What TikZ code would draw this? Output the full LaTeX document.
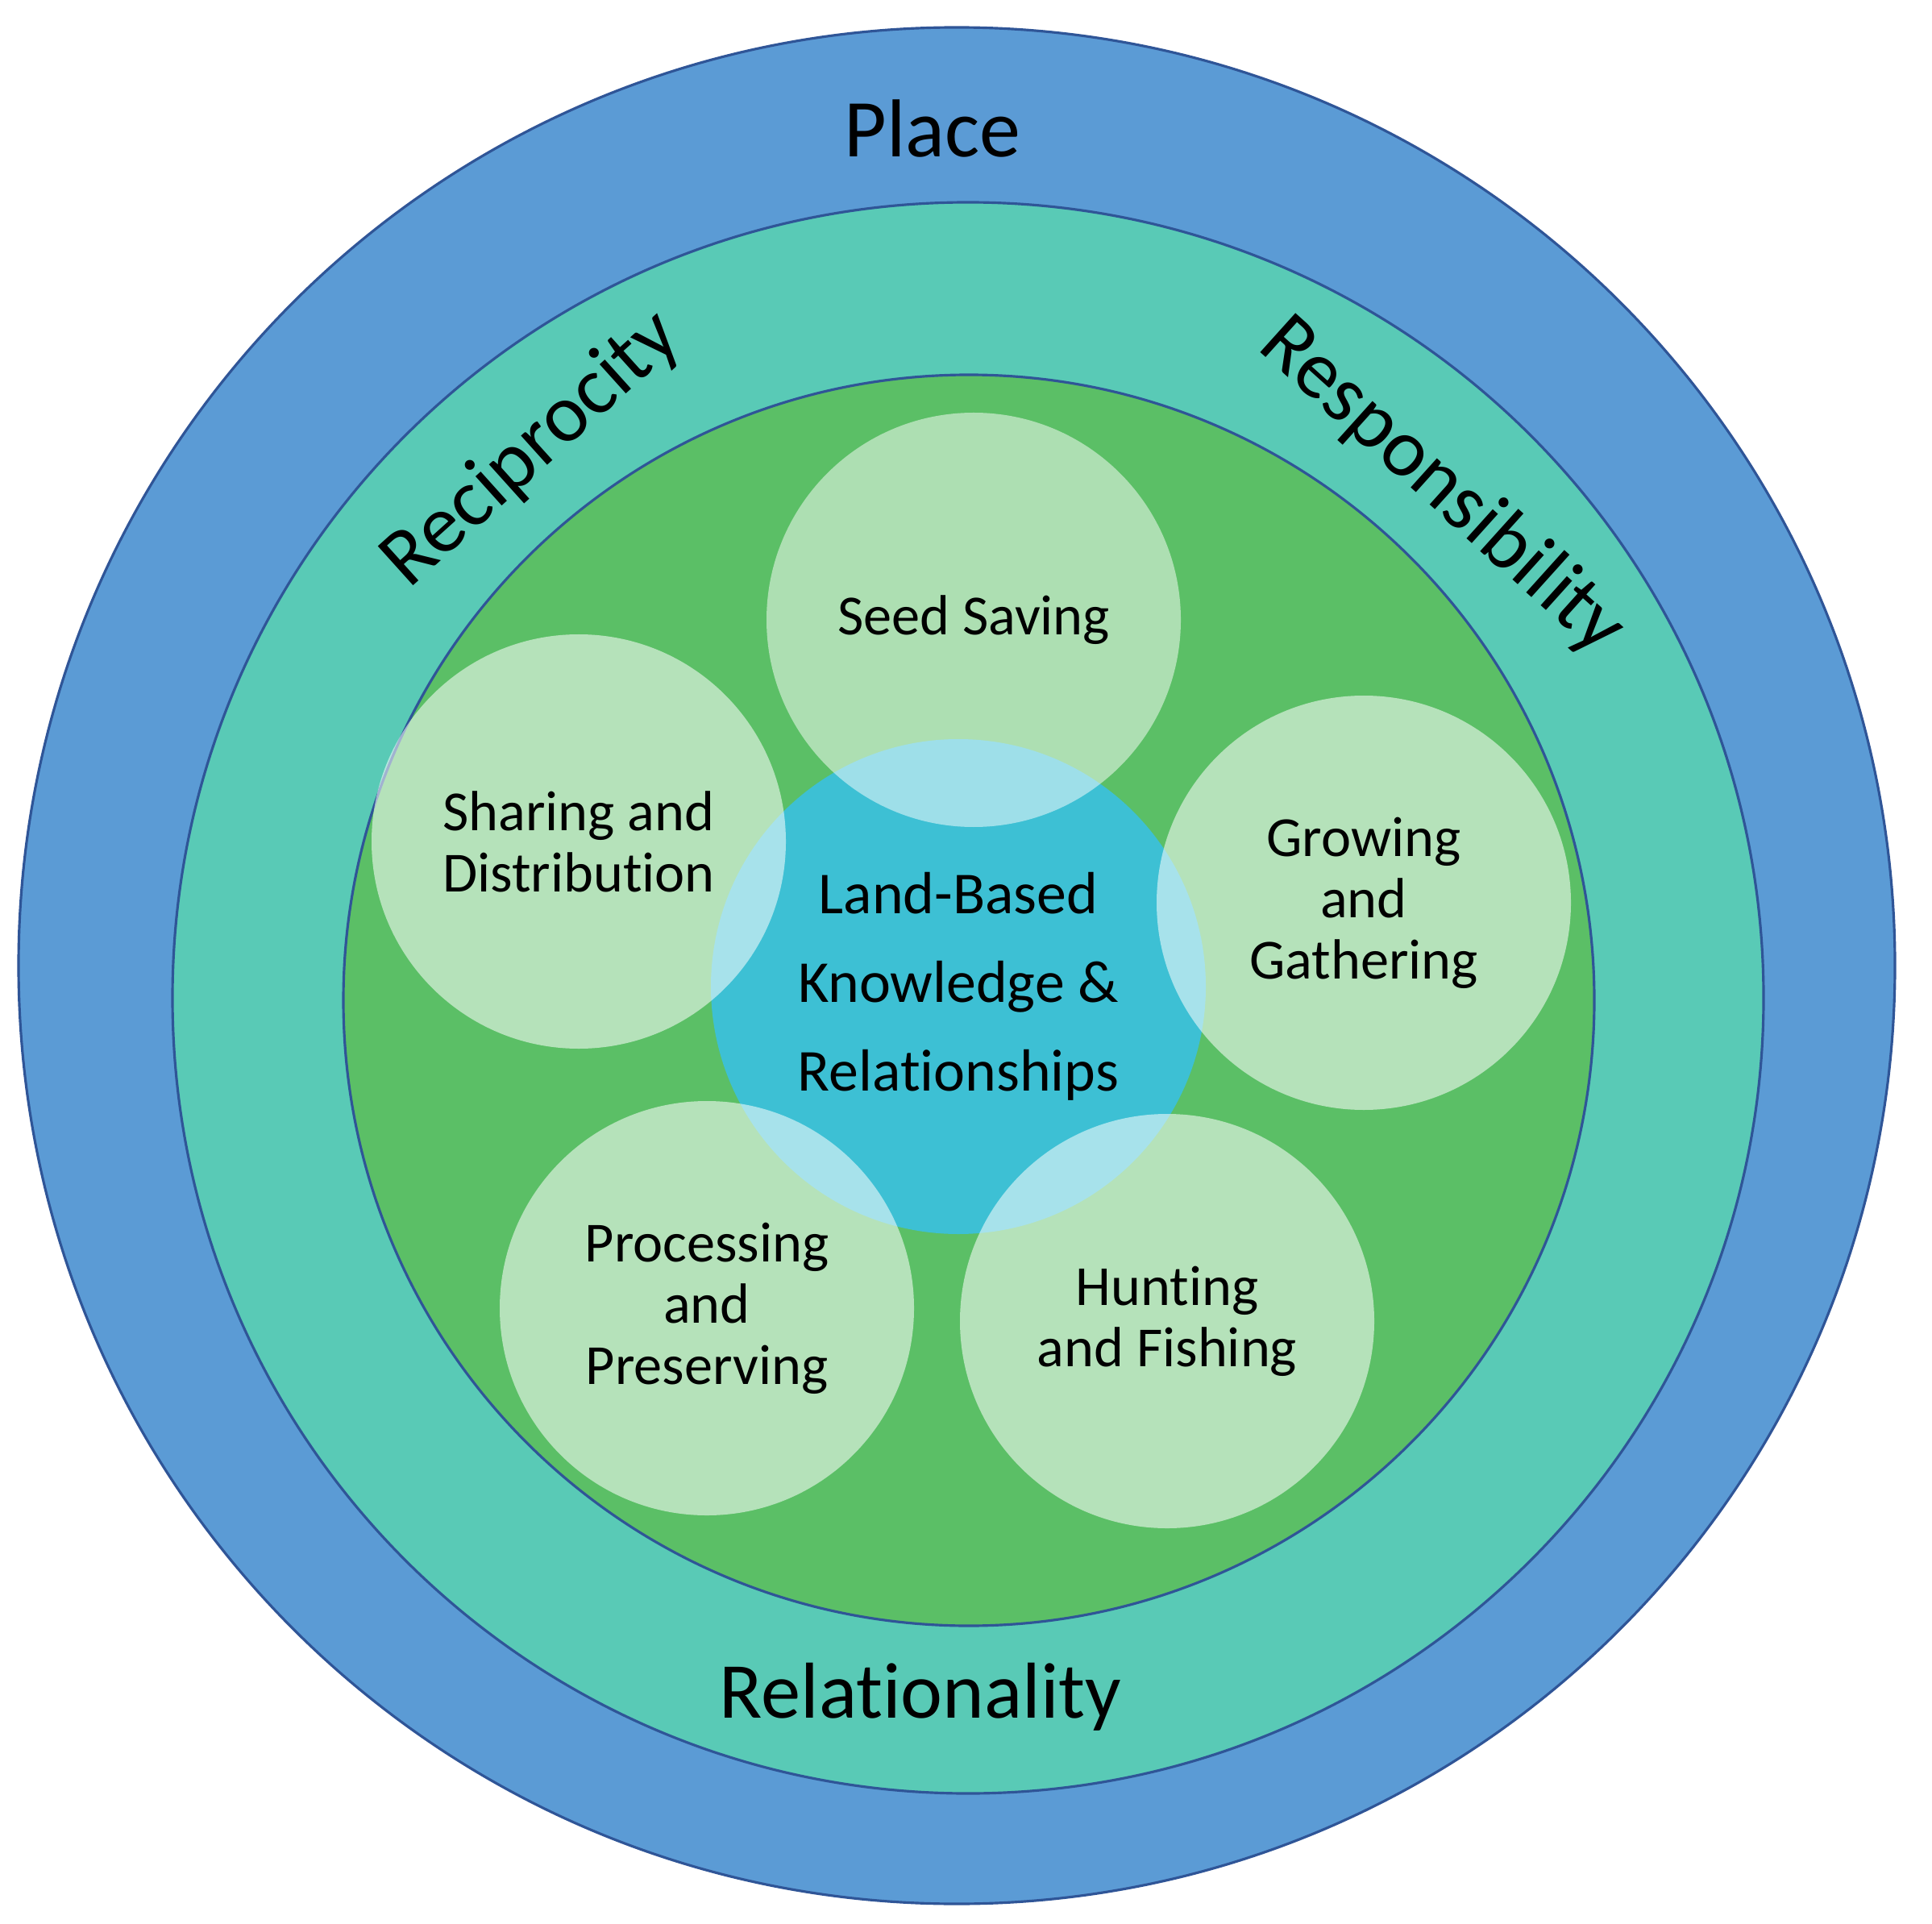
\documentclass[tikz,border=0pt]{standalone}
\usepackage{fontspec}
\setmainfont{Carlito}[Ligatures=CommonOff]
\definecolor{PlaceBlue}{HTML}{5B9BD5}
\definecolor{RingTeal}{HTML}{59CAB6}
\definecolor{FieldGreen}{HTML}{5BBF66}
\definecolor{CoreCyan}{HTML}{3DC0D4}
\definecolor{RingLine}{HTML}{2F5597}

\begin{document}
\begin{tikzpicture}
  \tikzstyle{ring}=[draw=RingLine,line width=0.9pt]
  \tikzstyle{act}=[circle,fill=white,fill opacity=0.55,text opacity=1,
    minimum size=51.4mm,inner sep=0pt,align=center,
    font=\fontsize{20}{21.6}\selectfont]
  \tikzstyle{value}=[font=\fontsize{29}{34}\selectfont]
  \useasboundingbox (0,0) rectangle (23.97,23.86);
  % nested rings
  \draw[ring,fill=PlaceBlue] (11.87,11.88) circle (11.64);
  \draw[ring,fill=RingTeal] (12.01,11.48) circle (9.87);
  \draw[ring,fill=FieldGreen] (12.02,11.45) circle (7.76);
  % core and activities
  \node[circle,fill=CoreCyan,minimum size=61.4mm,inner sep=0pt,align=center,
    font=\fontsize{21}{31.3}\selectfont] (core) at (11.89,11.62)
    {Land-Based\\Knowledge \&\\Relationships};
  \node[act,fill opacity=0.5] (seed) at (12.08,16.17) {Seed Saving};
  \node[act] (share) at (7.18,13.42) {Sharing and\\Distribution};
  \node[act] (grow) at (16.92,12.66) {Growing\\and\\Gathering};
  \node[act] (proc) at (8.77,7.63) {Processing\\and\\Preserving};
  \node[act] (hunt) at (14.48,7.47) {Hunting\\and Fishing};
  % ring labels
  \node[value] (place) at (11.57,22.26) {Place};
  \node[value,font=\fontsize{28}{34}\selectfont] (relat) at (11.42,2.81) {Relationality};
  \node[value,rotate=42] (recip) at (6.60,18.28) {Reciprocity};
  \node[value,rotate=-42] (resp) at (17.89,17.82) {Responsibility};
\end{tikzpicture}
\end{document}
